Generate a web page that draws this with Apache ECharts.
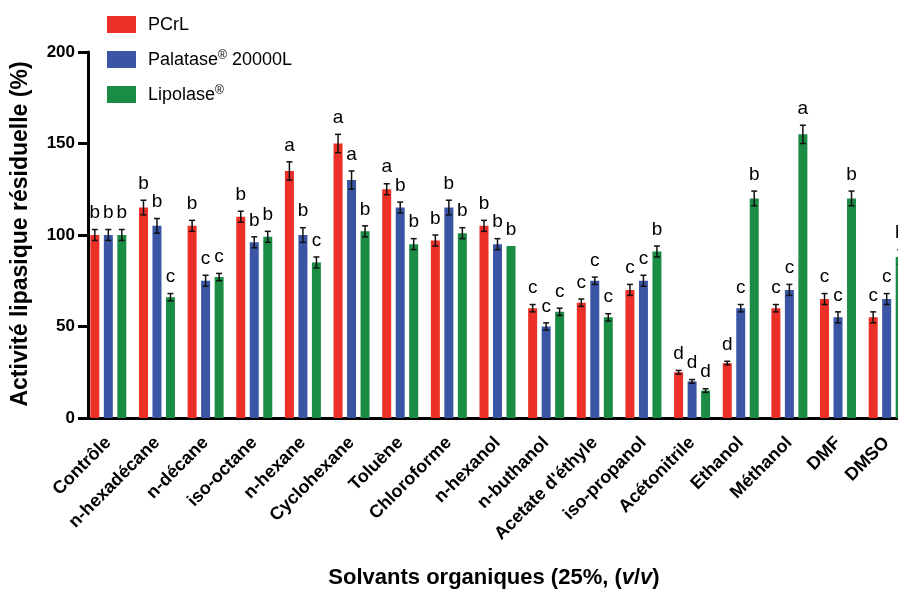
<!DOCTYPE html>
<html>
<head>
<meta charset="utf-8">
<script src="https://cdn.jsdelivr.net/npm/echarts@6/dist/echarts.min.js"></script>
<style>
html,body{margin:0;padding:0;background:#fff;}
#chart{width:898px;height:590px;}
</style>
</head>
<body>
<div id="chart"></div>
<script>
const categories = ["Contrôle","n-hexadécane","n-décane","iso-octane","n-hexane","Cyclohexane","Toluène","Chloroforme","n-hexanol","n-buthanol","Acetate d'éthyle","iso-propanol","Acétonitrile","Ethanol","Méthanol","DMF","DMSO"];
const seriesNames = ["PCrL","Palatase® 20000L","Lipolase®"];
const pcrl      = [100,115,105,110,135,150,125, 97,105,60,63,70,25,30, 60,65,55];
const palatase  = [100,105, 75, 96,100,130,115,115, 95,50,75,75,20,60, 70,55,65];
const lipolase  = [100, 66, 77, 99, 85,102, 95,101, 94,58,55,91,15,120,155,120,88];
const pcrlErr     = [3,4,3,3,5,5,3,3,3,2,2,3,1,1,2,3,3];
const palataseErr = [3,4,3,3,4,5,3,4,3,2,2,3,1,2,3,3,3];
const lipolaseErr = [3,2,2,3,3,3,3,3,0,2,2,3,1,4,5,4,4];
const pcrlLetters     = ["b","b","b","b","a","a","a","b","b","c","c","c","d","d","c","c","c"];
const palataseLetters = ["b","b","c","b","b","a","b","b","b","c","c","c","d","c","c","c","c"];
const lipolaseLetters = ["b","c","c","b","c","b","b","b","b","c","c","b","d","b","a","b","b"];
const yTicks = [0,50,100,150,200];

const colors = ["#EC2F27","#3A55A4","#1B8C44"];
const FONT = "'Liberation Sans', Arial, Helvetica, sans-serif";
const values = [pcrl, palatase, lipolase];
const errs = [pcrlErr, palataseErr, lipolaseErr];
const letters = [pcrlLetters, palataseLetters, lipolaseLetters];
const BAR_W = 9, BAR_STEP = 13.5;

const chart = echarts.init(document.getElementById('chart'));

const barSeries = seriesNames.map((n, i) => ({
  name: n, type: 'bar', data: values[i], barWidth: BAR_W, barGap: '50%',
  itemStyle: {color: colors[i]}, z: 2
}));

const errSeries = seriesNames.map((n, i) => ({
  type: 'custom', coordinateSystem: 'cartesian2d', z: 3, silent: true, clip: false,
  encode: {x: 0, y: 1},
  data: values[i].map((v, k) => [k, v, errs[i][k]]),
  renderItem: function (params, api) {
    const ci = api.value(0), v = api.value(1), e = api.value(2);
    const off = (i - 1) * BAR_STEP;
    const x = api.coord([ci, v])[0] + off;
    const yTop = api.coord([ci, v + e])[1];
    const yBot = api.coord([ci, v - e])[1];
    const children = [];
    const ls = {stroke: '#111', lineWidth: 1.5};
    if (e > 0) {
      children.push({type: 'line', shape: {x1: x, y1: yTop, x2: x, y2: yBot}, style: ls});
      children.push({type: 'line', shape: {x1: x - 3, y1: yTop, x2: x + 3, y2: yTop}, style: ls});
      children.push({type: 'line', shape: {x1: x - 3, y1: yBot, x2: x + 3, y2: yBot}, style: ls});
    }
    children.push({type: 'text', x: x, y: yTop - 7,
      style: {text: letters[i][params.dataIndex], textAlign: 'center', textVerticalAlign: 'bottom',
        font: '19px ' + FONT, fill: '#000'}});
    return {type: 'group', children: children};
  }
}));

const option = {
  animation: false,
  backgroundColor: '#fff',
  grid: {left: 84, top: 52, bottom: 172, right: -13, containLabel: false, outerBoundsMode: 'none'},
  legend: {
    orient: 'vertical', left: 107, top: 16, padding: 0, itemWidth: 29, itemHeight: 17, itemGap: 15,
    icon: 'rect', data: seriesNames,
    formatter: function (name) {
      if (name.indexOf('®') >= 0) {
        const parts = name.split('®');
        return '{n|' + parts[0] + '}{s|®}' + (parts[1] ? '{n|' + parts[1] + '}' : '');
      }
      return '{n|' + name + '}';
    },
    textStyle: {
      padding: [0, 0, 0, 7],
      rich: {
        n: {fontSize: 18, fontFamily: FONT, color: '#000', lineHeight: 20, verticalAlign: 'bottom'},
        s: {fontSize: 12, fontFamily: FONT, color: '#000', lineHeight: 12, verticalAlign: 'top'}
      }
    }
  },
  xAxis: {
    type: 'category', data: categories,
    axisLine: {lineStyle: {color: '#000', width: 3}},
    axisTick: {alignWithLabel: true, length: 9, lineStyle: {color: '#000', width: 3}},
    axisLabel: {rotate: 45, interval: 0, margin: 22, color: '#000', fontWeight: 'bold', fontSize: 18, fontFamily: FONT}
  },
  yAxis: {
    type: 'value', min: yTicks[0], max: yTicks[yTicks.length - 1], interval: 50, offset: -4,
    splitLine: {show: false},
    axisLine: {show: true, lineStyle: {color: '#000', width: 3}},
    axisTick: {show: true, length: 10, lineStyle: {color: '#000', width: 3}},
    axisLabel: {color: '#000', fontWeight: 'bold', fontSize: 17, fontFamily: FONT, margin: 13}
  },
  graphic: [
    {type: 'text', x: 21, y: 234, rotation: Math.PI / 2,
      style: {text: 'Activité lipasique résiduelle (%)', textAlign: 'center', textVerticalAlign: 'middle',
        font: 'bold 23px ' + FONT, fill: '#000'}},
    {type: 'text', x: 494, y: 578,
      style: {text: '{b|Solvants organiques (25%, (}{i|v}{b|/}{i|v}{b|)}', textAlign: 'center', textVerticalAlign: 'middle',
        rich: {
          b: {fontSize: 22, fontWeight: 'bold', fontFamily: FONT, fill: '#000', color: '#000'},
          i: {fontSize: 22, fontWeight: 'bold', fontStyle: 'italic', fontFamily: FONT, fill: '#000', color: '#000'}
        }}}
  ],
  series: barSeries.concat(errSeries)
};
chart.setOption(option);
</script>
</body>
</html>
